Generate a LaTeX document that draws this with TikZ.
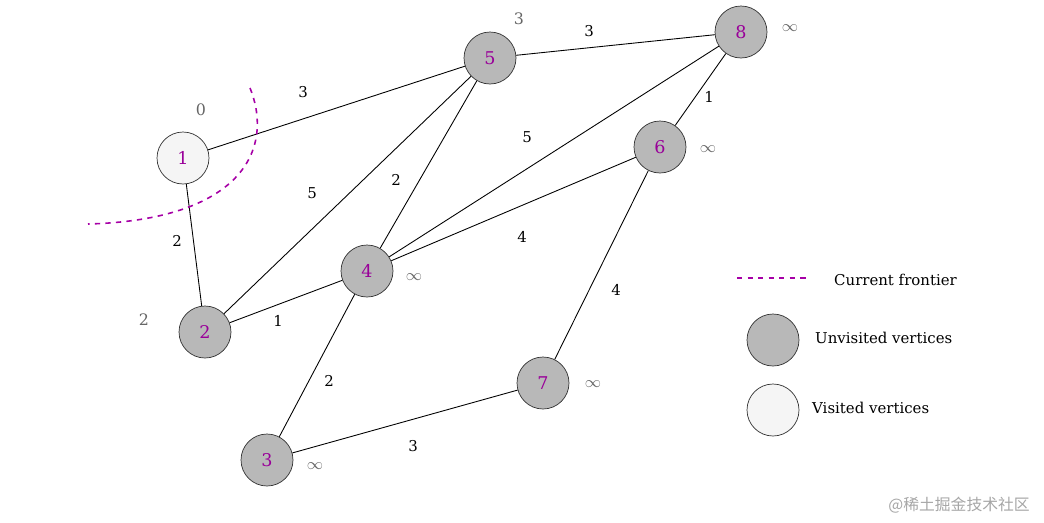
\documentclass[tikz,border=0pt]{standalone}
\usepackage{fontspec}
\setmainfont{DejaVu Serif}
\newfontfamily\cjk{Noto Sans CJK SC}
\begin{document}
\begin{tikzpicture}[x=0.02cm,y=-0.02cm,
 v/.style={circle,draw=black!80,fill=black!28,minimum size=1.04cm,inner sep=0pt,text=violet!80!magenta,font=\fontsize{10}{10}\selectfont},
 w/.style={v,fill=white!96!black},
 e/.style={draw=black,line width=0.5pt},
 el/.style={font=\fontsize{8.5}{9}\selectfont},
 dl/.style={font=\fontsize{9}{9}\selectfont,text=black!60}]
\useasboundingbox (0,0) rectangle (1044,522);
\node[w] (n1) at (183,158) {1};
\node[v] (n2) at (205,332) {2};
\node[v] (n3) at (267,460) {3};
\node[v] (n4) at (367,271) {4};
\node[v] (n5) at (490,58) {5};
\node[v] (n6) at (660,147) {6};
\node[v] (n7) at (543,383) {7};
\node[v] (n8) at (741,32) {8};
\draw[e] (n1) -- (n5); \draw[e] (n1) -- (n2);
\draw[e] (n2) -- (n5); \draw[e] (n2) -- (n4);
\draw[e] (n4) -- (n5); \draw[e] (n4) -- (n8);
\draw[e] (n4) -- (n6); \draw[e] (n4) -- (n3);
\draw[e] (n3) -- (n7); \draw[e] (n7) -- (n6);
\draw[e] (n6) -- (n8); \draw[e] (n5) -- (n8);
\node[el] (l15) at (303,92) {3};
\node[el] (l12) at (177,241) {2};
\node[el] (l25) at (312,193) {5};
\node[el] (l24) at (278,321) {1};
\node[el] (l45) at (396,180) {2};
\node[el] (l48) at (527,137) {5};
\node[el] (l46) at (522,237) {4};
\node[el] (l43) at (329,381) {2};
\node[el] (l37) at (413,446) {3};
\node[el] (l76) at (616,290) {4};
\node[el] (l68) at (709,97) {1};
\node[el] (l58) at (589,31) {3};
\node[dl] (d1) at (201,110) {0};
\node[dl] (d2) at (144,320) {2};
\node[dl] (d5) at (519,19) {3};
\node[dl] (d8) at (790,28) {$\infty$};
\node[dl] (d6) at (708,149) {$\infty$};
\node[dl] (d4) at (414,277) {$\infty$};
\node[dl] (d7) at (593,384) {$\infty$};
\node[dl] (d3) at (315,466) {$\infty$};
\draw[violet!70!magenta,dashed,line width=0.9pt] (250,88) .. controls (275,150) and (240,220) .. (88,224);
\coordinate (fa) at (737,278); \coordinate (fb) at (807,278);
\draw[violet!70!magenta,dashed,line width=0.9pt] (fa) -- (fb);
\node[el,anchor=west] (t1) at (828,280) {Current frontier};
\node[v] (lu) at (773,340) {};
\node[el,anchor=west] (t2) at (809,338) {Unvisited vertices};
\node[w] (lv) at (773,410) {};
\node[el,anchor=west] (t3) at (806,408) {Visited vertices};
\node[anchor=east,text=black!35,font=\cjk\fontsize{9}{9}\selectfont] (wm) at (1036,505) {@稀土掘金技术社区};
\end{tikzpicture}
\end{document}
